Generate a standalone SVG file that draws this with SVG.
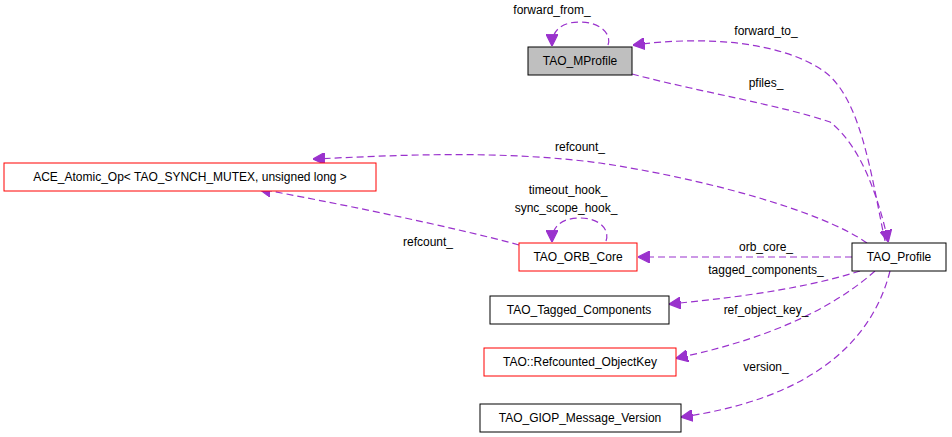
<svg xmlns="http://www.w3.org/2000/svg" width="952" height="437" viewBox="0 0 952 437">
<style>
text{font-family:"Liberation Sans",Arial,sans-serif;font-size:12px;text-anchor:middle;fill:#000}
.n{fill:#fff;stroke:#000;stroke-width:1}
.r{fill:#fff;stroke:#ff0000;stroke-width:1}
.e{fill:none;stroke:#9a32cd;stroke-dasharray:7,4;stroke-width:1.2}
</style>
<defs><marker id="a" viewBox="0 0 10 10" refX="9" refY="5" markerWidth="12" markerHeight="12" markerUnits="userSpaceOnUse" orient="auto"><path d="M0,0L10,5L0,10z" fill="#9a32cd" stroke="#9a32cd"/></marker></defs>
<rect width="952" height="437" fill="#fff"/>
<g id="connectors">
<path class="e" marker-end="url(#a)" d="M608,45C612,34 600,22 580,22C562,22 552,30 552,45"/>
<path class="e" marker-end="url(#a)" d="M885,241C872,180 862,100 825,72C780,40 700,36 634,45"/>
<path class="e" marker-end="url(#a)" d="M632,74C700,92 780,105 830,122C860,145 878,195 888,241"/>
<path class="e" marker-end="url(#a)" d="M867,243C820,210 700,178 600,163C500,150 400,155 314,159"/>
<path class="e" marker-end="url(#a)" d="M519,245C450,226 330,202 260,189"/>
<path class="e" marker-end="url(#a)" d="M606,241C610,230 600,218 580,218C562,218 552,226 552,241"/>
<path class="e" marker-end="url(#a)" d="M852,257L639,257"/>
<path class="e" marker-end="url(#a)" d="M860,271C800,290 730,298 670,304"/>
<path class="e" marker-end="url(#a)" d="M875,271C820,320 740,345 677,358"/>
<path class="e" marker-end="url(#a)" d="M890,271C870,350 800,400 682,417"/>
</g>
<g id="labels">
<text x="552" y="14">forward_from_</text>
<text x="766" y="35">forward_to_</text>
<text x="766" y="87">pfiles_</text>
<text x="580" y="151">refcount_</text>
<text x="568" y="194">timeout_hook_</text>
<text x="566" y="212">sync_scope_hook_</text>
<text x="428" y="246">refcount_</text>
<text x="766" y="251">orb_core_</text>
<text x="766" y="274">tagged_components_</text>
<text x="766" y="314">ref_object_key_</text>
<text x="766" y="371">version_</text>
</g>
<g id="TAO_MProfile"><rect x="528" y="47" width="104" height="28" fill="#bfbfbf" stroke="#000"/><text x="580" y="65">TAO_MProfile</text></g>
<g id="ACE_Atomic_Op"><rect class="r" x="4" y="163" width="372" height="28"/><text x="190" y="181">ACE_Atomic_Op&lt; TAO_SYNCH_MUTEX, unsigned long &gt;</text></g>
<g id="TAO_ORB_Core"><rect class="r" x="519" y="243" width="118" height="28"/><text x="578" y="261">TAO_ORB_Core</text></g>
<g id="TAO_Profile"><rect class="n" x="852" y="243" width="94" height="28"/><text x="899" y="261">TAO_Profile</text></g>
<g id="TAO_Tagged_Components"><rect class="n" x="490" y="296" width="179" height="28"/><text x="579" y="314">TAO_Tagged_Components</text></g>
<g id="TAO_Refcounted_ObjectKey"><rect class="r" x="484" y="348" width="192" height="28"/><text x="580" y="366">TAO::Refcounted_ObjectKey</text></g>
<g id="TAO_GIOP_Message_Version"><rect class="n" x="480" y="404" width="201" height="28"/><text x="580" y="422">TAO_GIOP_Message_Version</text></g>
</svg>
